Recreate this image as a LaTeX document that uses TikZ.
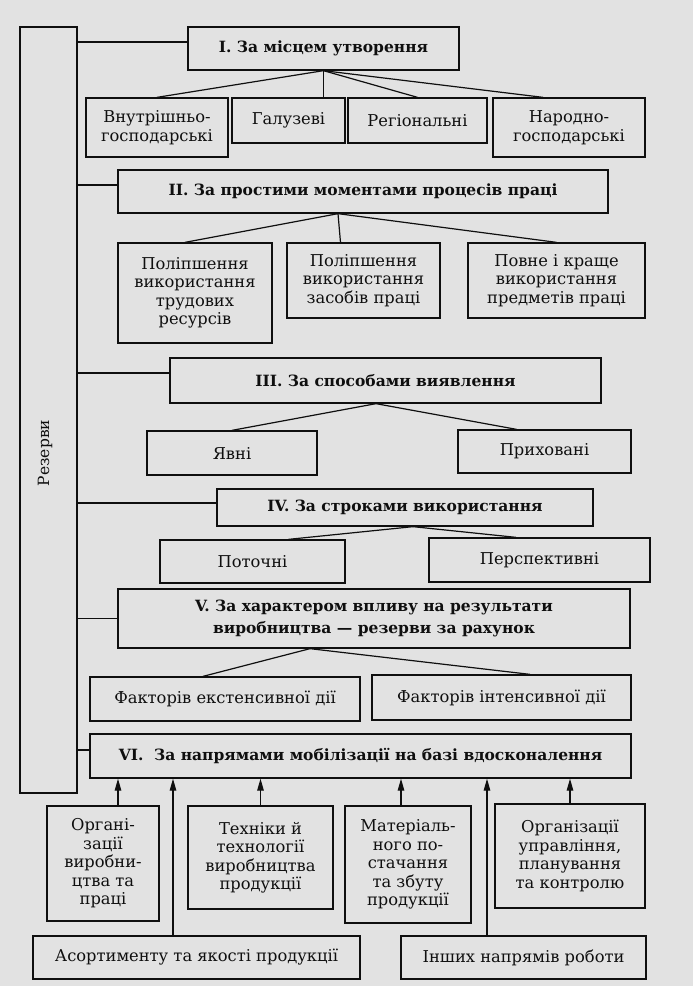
\documentclass[tikz,border=0pt]{standalone}
\usepackage{fontspec}
\setmainfont{DejaVu Serif}
\usetikzlibrary{arrows.meta,calc}
\definecolor{paper}{RGB}{226,226,226}
\definecolor{ink}{RGB}{15,15,15}
\newcommand\rbox[7]{\node[#1,minimum width={#4-#2},minimum height={#5-#3}] (#6) at ({(#2+#4)/2},{(#3+#5)/2}) {#7};}
\begin{document}
\begin{tikzpicture}[x=1pt,y=-1pt,
  box/.style={draw=ink, line width=1.3pt, inner sep=0pt, align=center, text=ink,
    font=\fontsize{16.3}{18.5}\selectfont},
  head/.style={box, font=\fontsize{15.5}{22}\selectfont\bfseries},
  link/.style={draw=ink, line width=1.2pt},
  up/.style={link, -{Triangle[length=12pt,width=6.5pt]}},
]
\fill[paper] (0,0) rectangle (693,986);
\useasboundingbox (0,0) rectangle (693,986);

\rbox{box}{20}{27}{77}{793}{rez}{}
\node[text=ink, font=\fontsize{15.5}{17.5}\selectfont, rotate=90] (rezlabel) at (45,453) {Резерви};

\rbox{head}{188}{27}{459}{70}{bI}{I. За місцем утворення}
\rbox{box}{86}{98}{228}{157}{vn}{Внутрішньо-\\господарські}
\rbox{box}{232}{98}{345}{143}{gal}{Галузеві}
\rbox{box}{348}{98}{487}{143}{reg}{Регіональні}
\rbox{box}{493}{98}{645}{157}{nar}{Народно-\\господарські}

\rbox{head}{118}{170}{608}{213}{bII}{II. За простими моментами процесів праці}
\rbox{box}{118}{243}{272}{343}{pa}{Поліпшення\\використання\\трудових\\ресурсів}
\rbox{box}{287}{243}{440}{318}{pb}{Поліпшення\\використання\\засобів праці}
\rbox{box}{468}{243}{645}{318}{pc}{Повне і краще\\використання\\предметів праці}

\rbox{head}{170}{358}{601}{403}{bIII}{III. За способами виявлення}
\rbox{box}{147}{431}{317}{475}{yav}{Явні}
\rbox{box}{458}{430}{631}{473}{pryh}{Приховані}

\rbox{head}{217}{489}{593}{526}{bIV}{IV. За строками використання}
\rbox{box}{160}{540}{345}{583}{pot}{Поточні}
\rbox{box}{429}{538}{650}{582}{persp}{Перспективні}

\rbox{head}{118}{589}{630}{648}{bV}{V. За характером впливу на результати\\виробництва — резерви за рахунок}
\rbox{box}{90}{677}{360}{721}{fe}{Факторів екстенсивної дії}
\rbox{box}{372}{675}{631}{720}{fi}{Факторів інтенсивної дії}

\rbox{head}{90}{734}{631}{778}{bVI}{VI.\ \ За напрямами мобілізації на базі вдосконалення}
\rbox{box}{47}{806}{159}{921}{org}{Органі-\\зації\\виробни-\\цтва та\\праці}
\rbox{box}{188}{806}{333}{909}{teh}{Техніки й\\технології\\виробництва\\продукції}
\rbox{box}{345}{806}{471}{923}{mat}{Матеріаль-\\ного по-\\стачання\\та збуту\\продукції}
\rbox{box}{495}{804}{645}{908}{orgu}{Організації\\управління,\\планування\\та контролю}
\rbox{box}{33}{936}{360}{979}{asort}{Асортименту та якості продукції}
\rbox{box}{401}{936}{646}{979}{inshi}{Інших напрямів роботи}

% spine connectors
\coordinate (cI) at ([yshift=6.5pt]bI.west);
\coordinate (cII) at ([yshift=6.5pt]bII.west);
\coordinate (cIII) at ([yshift=7.5pt]bIII.west);
\coordinate (cIV) at ([yshift=4.5pt]bIV.west);
\coordinate (cV) at (bV.west);
\coordinate (cVI) at ([yshift=6pt]bVI.west);
\foreach \c in {cI,cII,cIII,cIV,cV,cVI} \draw[link] (rez.east |- \c) -- (\c);

% tree I
\draw[link] (bI.south) -- (vn.north);
\draw[link] (bI.south) -- (bI.south |- gal.north);
\draw[link] (bI.south) -- (reg.north);
\draw[link] (bI.south) -- ([xshift=-26pt]nar.north);
% tree II
\coordinate (aII) at ([xshift=-25pt]bII.south);
\draw[link] (aII) -- ([xshift=-10pt]pa.north);
\draw[link] (aII) -- ([xshift=-23pt]pb.north);
\draw[link] (aII) -- (pc.north);
% tree III
\coordinate (aIII) at ([xshift=-9.5pt]bIII.south);
\draw[link] (aIII) -- (yav.north);
\draw[link] (aIII) -- ([xshift=-28pt]pryh.north);
% tree IV
\coordinate (aIV) at ([xshift=8pt]bIV.south);
\draw[link] (aIV) -- ([xshift=36pt]pot.north);
\draw[link] (aIV) -- ([xshift=-23.5pt]persp.north);
% tree V
\coordinate (aV) at ([xshift=-64pt]bV.south);
\draw[link] (aV) -- ([xshift=-22pt]fe.north);
\draw[link] (aV) -- ([xshift=28.5pt]fi.north);

% arrows into VI
\coordinate (sorg) at ([xshift=15pt]org.north);
\coordinate (smat) at ([xshift=-7pt]mat.north);
\coordinate (sas) at ([xshift=-23.5pt]asort.north);
\coordinate (sin) at ([xshift=-36.5pt]inshi.north);
\foreach \s in {sorg,teh.north,smat,orgu.north,sas,sin} \draw[up] (\s) -- (\s |- bVI.south);
\end{tikzpicture}
\end{document}
